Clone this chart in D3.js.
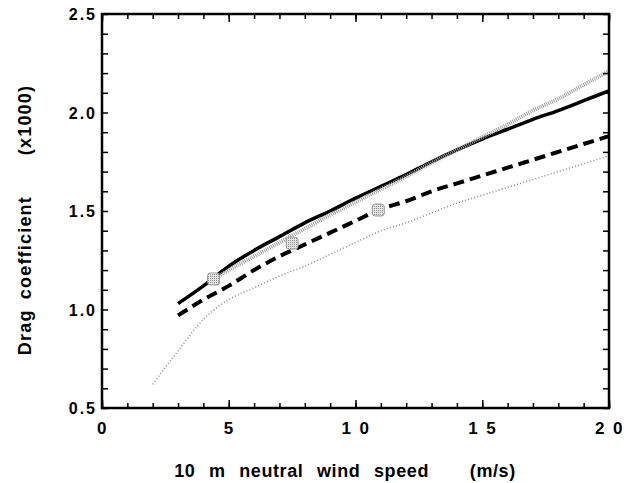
<!DOCTYPE html>
<html>
<head>
<meta charset="utf-8">
<script src="https://cdn.jsdelivr.net/npm/d3@7"></script>
<style>
	body { margin: 0; background: #fff; }
	text { font-family: 'Liberation Sans', Arial, sans-serif; font-weight: bold; fill: #000; white-space: pre; }
</style>
</head>
<body>
<div id="chart"></div>
<script>

// wind speed (m/s) for each curve
var solidSpeed = [ 3, 4, 5, 6, 7, 8, 9, 10, 11, 12, 13, 14, 15, 16, 17, 18, 19, 20 ];
var solidCd = [ 1.03, 1.12, 1.22, 1.30, 1.37, 1.44, 1.50, 1.565, 1.625, 1.685, 1.75, 1.81, 1.865, 1.915, 1.965, 2.01, 2.06, 2.11 ];

var dashedSpeed = [ 3, 4, 5, 6, 7, 8, 9, 10, 11, 12, 13, 14, 15, 16, 17, 18, 19, 20 ];
var dashedCd = [ 0.97, 1.05, 1.12, 1.20, 1.27, 1.33, 1.39, 1.45, 1.51, 1.55, 1.60, 1.64, 1.68, 1.72, 1.76, 1.80, 1.84, 1.88 ];

var grayUpperSpeed = [ 4.4, 5, 6, 7, 8, 9, 10, 11, 12, 13, 14, 15, 16, 17, 18, 19, 20 ];
var grayUpperCd = [ 1.155, 1.20, 1.27, 1.34, 1.41, 1.48, 1.545, 1.61, 1.675, 1.745, 1.81, 1.875, 1.94, 2.01, 2.07, 2.14, 2.21 ];

var grayLowerSpeed = [ 2, 3, 4, 5, 6, 7, 8, 9, 10, 11, 12, 13, 14, 15, 16, 17, 18, 19, 20 ];
var grayLowerCd = [ 0.62, 0.79, 0.95, 1.05, 1.11, 1.17, 1.22, 1.28, 1.34, 1.40, 1.44, 1.49, 1.54, 1.58, 1.62, 1.66, 1.70, 1.74, 1.78 ];

var markerSpeed = [ 4.4, 7.5, 10.9 ];
var markerCd = [ 1.155, 1.337, 1.505 ];

var xTickValues = [ 0, 5, 10, 15, 20 ];
var xTickLabels = [ '0', '5', '1 0', '1 5', '2 0' ];
var yTickValues = [ 0.5, 1.0, 1.5, 2.0, 2.5 ];
var yTickLabels = [ '0.5', '1.0', '1.5', '2.0', '2.5' ];

var width = 629,
	height = 483,
	padding = { top: 14, right: 20, bottom: 75, left: 102 },
	cwidth = width - padding.left - padding.right,
	cheight = height - padding.top - padding.bottom;

var svg = d3.select( '#chart' ).append( 'svg' )
	.attr( 'width', width )
	.attr( 'height', height );

var defs = svg.append( 'defs' );
var hatch = defs.append( 'pattern' )
	.attr( 'id', 'hatch' )
	.attr( 'patternUnits', 'userSpaceOnUse' )
	.attr( 'width', 2 )
	.attr( 'height', 2 );
hatch.append( 'rect' ).attr( 'width', 2 ).attr( 'height', 2 ).attr( 'fill', '#e4e4e4' );
hatch.append( 'rect' ).attr( 'width', 1 ).attr( 'height', 1 ).attr( 'fill', '#8a8a8a' );

var guts = svg.append( 'g' )
	.attr( 'transform', 'translate(' + padding.left + ',' + padding.top + ')' );

var x = d3.scaleLinear().domain( [ 0, 20 ] ).range( [ 0, cwidth ] );
var y = d3.scaleLinear().domain( [ 0.5, 2.5 ] ).range( [ cheight, 0 ] );

function zip( xs, ys ) {
	return xs.map( function ( d, i ) { return [ d, ys[i] ]; } );
}

var line = d3.line()
	.x( function ( d ) { return x( d[0] ); } )
	.y( function ( d ) { return y( d[1] ); } )
	.curve( d3.curveMonotoneX );

// curves
guts.append( 'path' )
	.datum( zip( grayLowerSpeed, grayLowerCd ) )
	.attr( 'd', line )
	.attr( 'fill', 'none' )
	.attr( 'stroke', '#8c8c8c' )
	.attr( 'stroke-width', 1.6 )
	.attr( 'stroke-dasharray', '1,2.2' );

guts.append( 'path' )
	.datum( zip( dashedSpeed, dashedCd ) )
	.attr( 'd', line )
	.attr( 'fill', 'none' )
	.attr( 'stroke', '#000' )
	.attr( 'stroke-width', 4 )
	.attr( 'stroke-dasharray', '11,6' );

guts.append( 'path' )
	.datum( zip( solidSpeed, solidCd ) )
	.attr( 'd', line )
	.attr( 'fill', 'none' )
	.attr( 'stroke', '#000' )
	.attr( 'stroke-width', 3.5 );

guts.append( 'path' )
	.datum( zip( grayUpperSpeed, grayUpperCd ) )
	.attr( 'd', line )
	.attr( 'fill', 'none' )
	.attr( 'stroke', '#a0a0a0' )
	.attr( 'stroke-width', 4 )
	.attr( 'stroke-dasharray', '1,1' );

// markers
guts.selectAll( '.marker' )
	.data( zip( markerSpeed, markerCd ) )
	.enter().append( 'rect' )
	.attr( 'class', 'marker' )
	.attr( 'x', function ( d ) { return x( d[0] ) - 6; } )
	.attr( 'y', function ( d ) { return y( d[1] ) - 6; } )
	.attr( 'width', 12 )
	.attr( 'height', 12 )
	.attr( 'rx', 3 )
	.attr( 'fill', 'url(#hatch)' )
	.attr( 'stroke', '#9a9a9a' )
	.attr( 'stroke-width', 1 );

// axes (ticks inside on all four sides)
var minorX = d3.range( 0, 21 );
var minorY = d3.range( 5, 26 ).map( function ( d ) { return d / 10; } );

function styleAxis( g ) {
	g.select( '.domain' ).remove();
	g.selectAll( '.tick line' ).attr( 'stroke', '#000' ).attr( 'stroke-width', 1.5 );
}

guts.append( 'g' )
	.attr( 'transform', 'translate(0,' + cheight + ')' )
	.call( d3.axisBottom( x ).tickValues( minorX ).tickSize( -5 ).tickFormat( '' ) )
	.call( styleAxis );
guts.append( 'g' )
	.call( d3.axisTop( x ).tickValues( minorX ).tickSize( -5 ).tickFormat( '' ) )
	.call( styleAxis );
guts.append( 'g' )
	.attr( 'transform', 'translate(0,' + cheight + ')' )
	.call( d3.axisBottom( x ).tickValues( xTickValues ).tickSize( -8 ).tickFormat( '' ) )
	.call( styleAxis );
guts.append( 'g' )
	.call( d3.axisTop( x ).tickValues( xTickValues ).tickSize( -8 ).tickFormat( '' ) )
	.call( styleAxis );
guts.append( 'g' )
	.call( d3.axisLeft( y ).tickValues( minorY ).tickSize( -6 ).tickFormat( '' ) )
	.call( styleAxis );
guts.append( 'g' )
	.attr( 'transform', 'translate(' + cwidth + ',0)' )
	.call( d3.axisRight( y ).tickValues( minorY ).tickSize( -6 ).tickFormat( '' ) )
	.call( styleAxis );

// frame
guts.append( 'rect' )
	.attr( 'width', cwidth )
	.attr( 'height', cheight )
	.attr( 'fill', 'none' )
	.attr( 'stroke', '#000' )
	.attr( 'stroke-width', 2.5 );

// tick labels
guts.selectAll( '.xlabel' )
	.data( xTickValues )
	.enter().append( 'text' )
	.attr( 'class', 'xlabel' )
	.attr( 'x', function ( d ) { return x( d ); } )
	.attr( 'y', cheight + 26 )
	.attr( 'text-anchor', 'middle' )
	.style( 'font-size', '17px' )
	.style( 'letter-spacing', '0.5px' )
	.style( 'word-spacing', '3px' )
	.text( function ( d, i ) { return xTickLabels[i]; } );

guts.selectAll( '.ylabel' )
	.data( yTickValues )
	.enter().append( 'text' )
	.attr( 'class', 'ylabel' )
	.attr( 'x', -5 )
	.attr( 'y', function ( d ) { return y( d ) + 6; } )
	.attr( 'text-anchor', 'end' )
	.style( 'font-size', '16px' )
	.style( 'letter-spacing', '2px' )
	.text( function ( d, i ) { return yTickLabels[i]; } );

// axis titles
svg.append( 'text' )
	.attr( 'x', 345 )
	.attr( 'y', 477 )
	.attr( 'text-anchor', 'middle' )
	.style( 'font-size', '18px' )
	.style( 'letter-spacing', '0.6px' )
	.style( 'word-spacing', '8px' )
	.text( '10 m neutral wind speed   (m/s)' );

svg.append( 'text' )
	.attr( 'transform', 'translate(31,220) rotate(-90)' )
	.attr( 'text-anchor', 'middle' )
	.style( 'font-size', '18px' )
	.style( 'letter-spacing', '1.2px' )
	.style( 'word-spacing', '4px' )
	.text( 'Drag coefficient    (x1000)' );

</script>
</body>
</html>
